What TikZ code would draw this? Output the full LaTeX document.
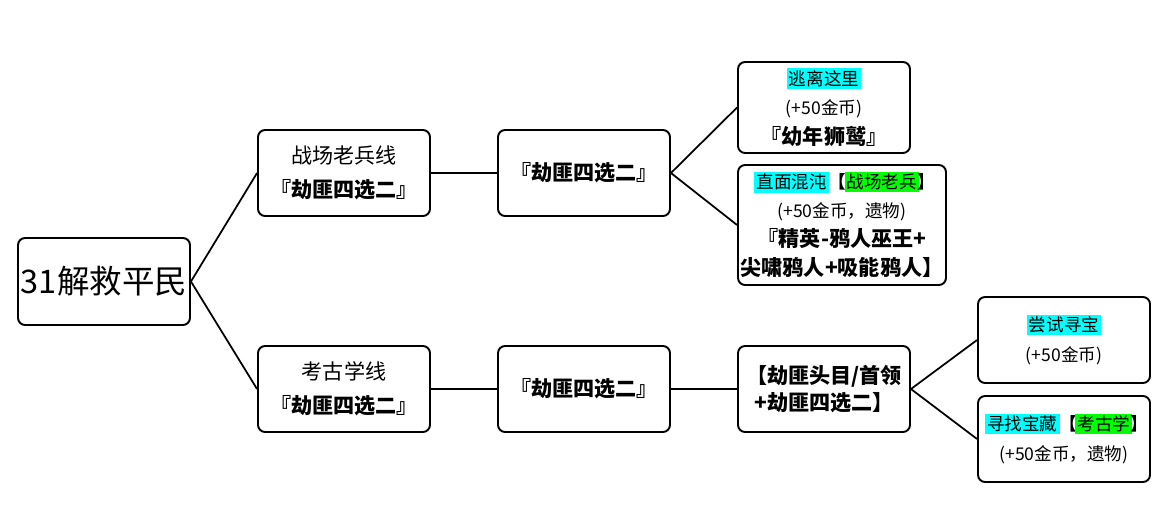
\documentclass[tikz,border=0pt]{standalone}
\usepackage{fontspec}
\setmainfont{Noto Sans CJK SC}
\usepackage{xcolor}
\usetikzlibrary{positioning}
\definecolor{hlcyan}{RGB}{0,255,255}
\definecolor{hlgreen}{RGB}{0,255,0}
\newcommand{\hlc}[1]{{\setlength{\fboxsep}{1.2pt}\colorbox{hlcyan}{#1}}}
\newcommand{\hlg}[1]{{\setlength{\fboxsep}{1.2pt}\colorbox{hlgreen}{#1}}}
\newcommand{\lbr}{\textbf{【}\kern-0.1em}
\newcommand{\rbr}{\kern-0.1em\textbf{】}\kern-0.3em}
\newcommand{\optfont}{\fontsize{10}{12}\selectfont}
\newcommand{\gold}{{\optfont(+50金币)}}
\newcommand{\goldrelic}{{\optfont(+50金币，遗物)}}

\begin{document}
\begin{tikzpicture}[
    x=0.02cm, y=-0.02cm,
    box/.style={rectangle, draw=black, line width=1.1pt, rounded corners=4pt,
                minimum width=3.44cm, minimum height=1.72cm, align=center,
                inner sep=1pt, font=\fontsize{12}{19.5}\selectfont},
    link/.style={line width=1pt}
]
\useasboundingbox (0,0) rectangle (1176,515);

\node[box, font=\fontsize{18.5}{20}\selectfont, minimum height=1.74cm] (root) at (104, 281.5) {31解救平民};

\node[box] (vet) at (344, 173) {战场老兵线\\\textbf{『劫匪四选二』}};
\node[box] (arch) at (344, 389) {考古学线\\\textbf{『劫匪四选二』}};

\node[box] (vetpick) at (584, 173) {\textbf{『劫匪四选二』}};
\node[box] (archpick) at (584, 389) {\textbf{『劫匪四选二』}};

\node[box, minimum height=1.82cm, font=\fontsize{12}{17}\selectfont] (flee) at (824, 107.5)
    {{\optfont\hlc{逃离这里}}\\\gold\\\textbf{『幼年狮鹫』}};
\node[box, minimum width=4.16cm, minimum height=2.4cm, font=\fontsize{12}{16.5}\selectfont] (chaos) at (842, 225)
    {{\optfont\hlc{直面混沌}\lbr\hlg{战场老兵}\rbr}\\\goldrelic\\\textbf{『精英-鸦人巫王+}\\\textbf{尖啸鸦人+吸能鸦人】}};
\node[box, font=\fontsize{12}{15.5}\selectfont] (boss) at (824, 389) {\textbf{【劫匪头目/首领}\\\textbf{+劫匪四选二】}};

\node[box, font=\fontsize{12}{17}\selectfont] (seek) at (1064, 340) {{\optfont\hlc{尝试寻宝}}\\\gold};
\node[box, font=\fontsize{12}{17}\selectfont] (hunt) at (1064, 439) {{\optfont\hlc{寻找宝藏}\lbr\hlg{考古学}\rbr}\\\goldrelic};

% Connectors
\draw[link] (root.east) -- (vet.west);
\draw[link] (root.east) -- (arch.west);
\draw[link] (vet.east) -- (vetpick.west);
\draw[link] (arch.east) -- (archpick.west);
\draw[link] (vetpick.east) -- (flee.west);
\draw[link] (vetpick.east) -- (chaos.west);
\draw[link] (archpick.east) -- (boss.west);
\draw[link] (boss.east) -- (seek.west);
\draw[link] (boss.east) -- (hunt.west);

\end{tikzpicture}
\end{document}
